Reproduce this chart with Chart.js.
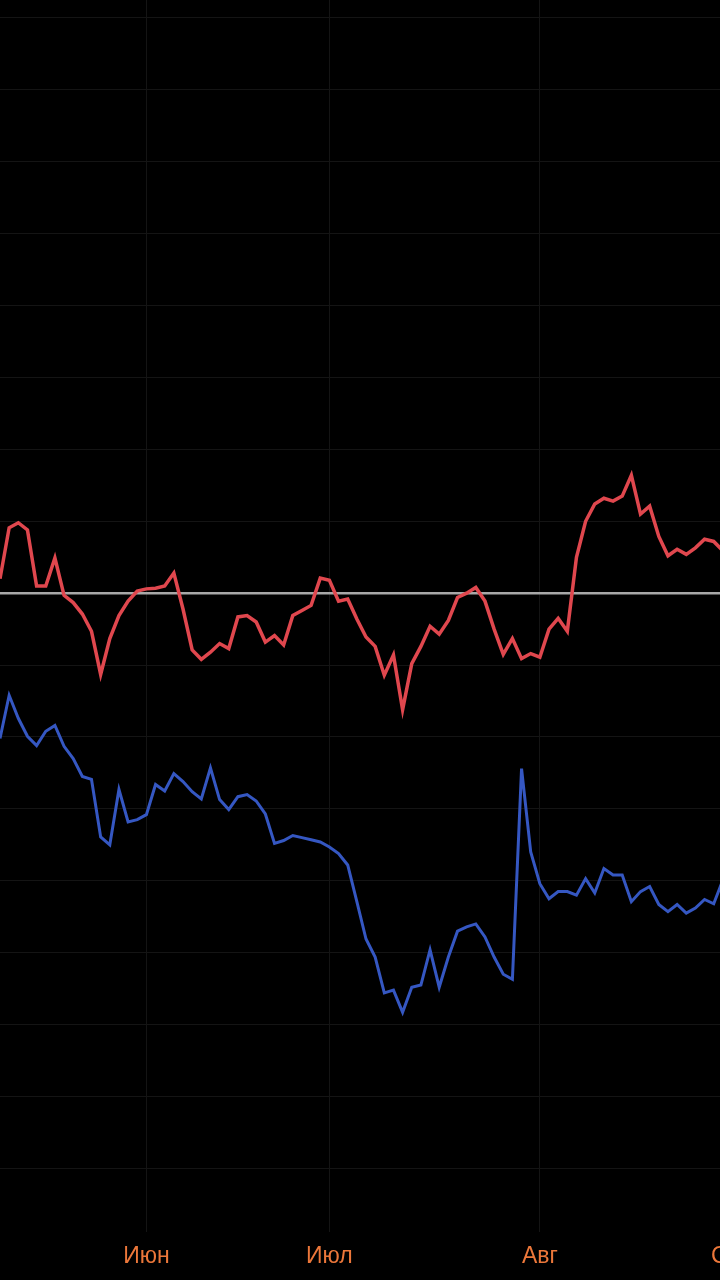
<!DOCTYPE html>
<html>
<head>
<meta charset="utf-8">
<script src="https://cdn.jsdelivr.net/npm/chart.js@4"></script>
<style>
  html, body { margin: 0; padding: 0; background: #000; overflow: hidden; width: 720px; height: 1280px; }
  #wrap { position: absolute; left: 0; top: 0; width: 800px; height: 1280px; }
  canvas { display: block; }
</style>
</head>
<body>
<div id="wrap"><canvas id="c" width="800" height="1280"></canvas></div>
<script>
// Trading-day index (x) for each observation
const dayIndex = Array.from({length: 80}, (_, i) => i);

// Red series
const redSeries = [
  2.0, 9.1, 9.8, 8.8, 1.0, 1.0, 4.9, -0.3, -1.3, -2.9,
  -5.3, -11.3, -6.3, -3.1, -1.1, 0.3, 0.6, 0.7, 1.0, 2.8,
  -2.2, -7.9, -9.2, -8.2, -7.0, -7.7, -3.3, -3.1, -4.0, -6.8,
  -5.9, -7.2, -3.1, -2.4, -1.7, 2.1, 1.8, -1.1, -0.8, -3.6,
  -6.1, -7.4, -11.4, -8.6, -16.2, -9.8, -7.4, -4.6, -5.7, -3.8,
  -0.6, 0.0, 0.8, -1.1, -5.0, -8.5, -6.3, -9.1, -8.4, -8.9,
  -5.0, -3.5, -5.3, 5.0, 10.0, 12.4, 13.2, 12.8, 13.5, 16.4,
  11.0, 12.1, 7.9, 5.2, 6.1, 5.4, 6.3, 7.5, 7.2, 5.9
];

// Blue series
const blueSeries = [
  -20.2, -14.2, -17.4, -19.9, -21.2, -19.2, -18.4, -21.3, -23.0, -25.5,
  -25.9, -33.9, -35.0, -27.3, -31.8, -31.5, -30.8, -26.6, -27.5, -25.1,
  -26.2, -27.6, -28.6, -24.3, -28.7, -30.1, -28.3, -28.0, -28.9, -30.7,
  -34.8, -34.4, -33.7, -34.0, -34.3, -34.6, -35.3, -36.2, -37.8, -42.9,
  -48.1, -50.6, -55.6, -55.2, -58.3, -54.8, -54.5, -49.6, -54.8, -50.6,
  -47.0, -46.4, -46.0, -47.8, -50.6, -53.0, -53.7, -24.4, -36.0, -40.4,
  -42.5, -41.5, -41.5, -42.0, -39.7, -41.7, -38.3, -39.2, -39.2, -42.9,
  -41.5, -40.8, -43.3, -44.3, -43.3, -44.5, -43.8, -42.6, -43.2, -39.9
];

// Month tick labels and the trading-day index where each month starts
const monthLabels = ['Июн', 'Июл', 'Авг', 'Сен'];
const monthStartIndex = [16, 36, 59, 80];

const toPoints = (ys) => ys.map((y, i) => ({ x: dayIndex[i], y: y }));

new Chart(document.getElementById('c'), {
  type: 'line',
  data: {
    datasets: [
      {
        data: toPoints(redSeries),
        borderColor: '#e0474e',
        borderWidth: 3.5,
        pointRadius: 0,
        tension: 0,
        fill: false
      },
      {
        data: toPoints(blueSeries),
        borderColor: '#3557c2',
        borderWidth: 3,
        pointRadius: 0,
        tension: 0,
        fill: false
      }
    ]
  },
  options: {
    responsive: false,
    animation: false,
    devicePixelRatio: 1,
    layout: { padding: { left: 0, right: 0, top: 0, bottom: 0 } },
    plugins: {
      legend: { display: false },
      tooltip: { enabled: false },
      title: { display: false }
    },
    scales: {
      x: {
        type: 'linear',
        min: 0,
        max: 87.43,
        afterBuildTicks: (scale) => {
          scale.ticks = monthStartIndex.map(v => ({ value: v }));
        },
        ticks: {
          autoSkip: false,
          maxRotation: 0,
          padding: 10,
          color: '#ec773a',
          font: { family: '"Liberation Sans Narrow", "Arial Narrow", "Liberation Sans", Arial, sans-serif', size: 23 },
          callback: (value) => {
            const k = monthStartIndex.indexOf(value);
            return k >= 0 ? monthLabels[k] : '';
          }
        },
        grid: {
          color: '#141414',
          lineWidth: 1,
          drawTicks: false
        },
        border: { display: false }
      },
      y: {
        type: 'linear',
        min: -88.9,
        max: 82.5,
        ticks: {
          display: false,
          stepSize: 10,
          includeBounds: false
        },
        grid: {
          drawTicks: false,
          color: (ctx) => (ctx.tick && ctx.tick.value === 0) ? '#a8a8a8' : '#141414',
          lineWidth: (ctx) => (ctx.tick && ctx.tick.value === 0) ? 2.5 : 1
        },
        border: { display: false }
      }
    }
  }
});
</script>
</body>
</html>
